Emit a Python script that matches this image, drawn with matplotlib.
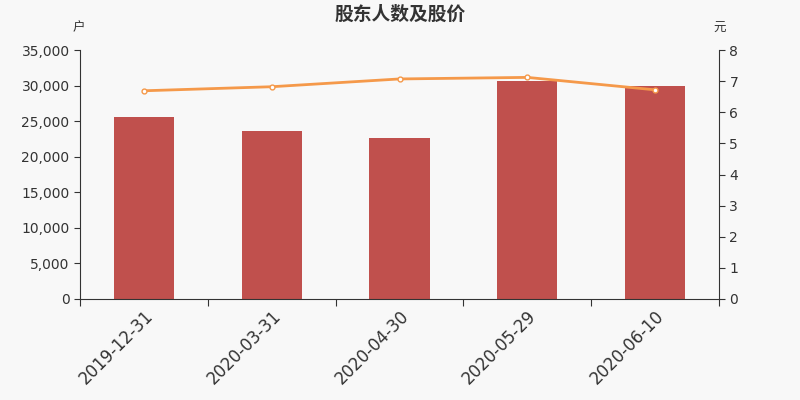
import matplotlib.pyplot as plt
import numpy as np

plt.rcParams['font.family'] = ['DejaVu Sans', 'Noto Sans CJK SC']

dates = ["2019-12-31", "2020-03-31", "2020-04-30", "2020-05-29", "2020-06-10"]
holders = [25600, 23600, 22650, 30650, 29950]
price = [6.69, 6.82, 7.07, 7.12, 6.72]

bg = "#f8f8f8"
axc = "#333333"
cjk = ['Noto Sans CJK SC', 'DejaVu Sans']
fig = plt.figure(figsize=(8, 4), dpi=100, facecolor=bg)
ax = fig.add_axes([0.1, 0.2525, 0.79875, 0.6225])
ax.set_facecolor(bg)
x = np.arange(len(dates))
ax.bar(x, holders, width=0.47, color="#c0504d", zorder=2)
ax.set_xlim(-0.5, len(dates) - 0.5)
ax.set_ylim(0, 35000)
ax.set_yticks(np.arange(0, 35001, 5000))
ax.set_yticklabels([f"{v:,}" for v in range(0, 35001, 5000)])
ax.set_xticks(np.arange(-0.5, len(dates), 1))
ax.set_xticklabels([])
ax.set_xticks(x, minor=True)
ax.set_xticklabels(dates, minor=True, rotation=45, ha="right", va="top",
                   rotation_mode="anchor", fontsize=12, color=axc)
ax.tick_params(axis="x", which="minor", length=0, pad=6)
ax.tick_params(axis="x", which="major", length=5, color=axc)
ax.tick_params(axis="y", length=4, color=axc, labelsize=10, labelcolor=axc)

ax2 = ax.twinx()
ax2.plot(x, price, color="#f5994a", lw=2, marker="o", ms=3.5,
         mfc="white", mec="#f5994a", mew=1, zorder=3)
ax2.set_ylim(0, 8)
ax2.set_yticks(range(0, 9))
ax2.tick_params(axis="y", length=4, color=axc, labelsize=10, labelcolor=axc)

for a in (ax, ax2):
    a.spines["top"].set_visible(False)
    for s in ("left", "right", "bottom"):
        a.spines[s].set_color(axc)
ax.spines["right"].set_visible(False)
ax2.spines["left"].set_visible(False)
ax2.spines["bottom"].set_visible(False)

fig.text(0.5, 0.964, "股东人数及股价", ha="center", va="center",
         fontsize=13.5, fontweight="bold", color=axc, family=cjk)
fig.text(0.098, 0.93, "户", ha="center", va="center", fontsize=9, color=axc, family=cjk)
fig.text(0.899, 0.93, "元", ha="center", va="center", fontsize=9, color=axc, family=cjk)

fig.savefig("out.png", dpi=100, facecolor=bg)
